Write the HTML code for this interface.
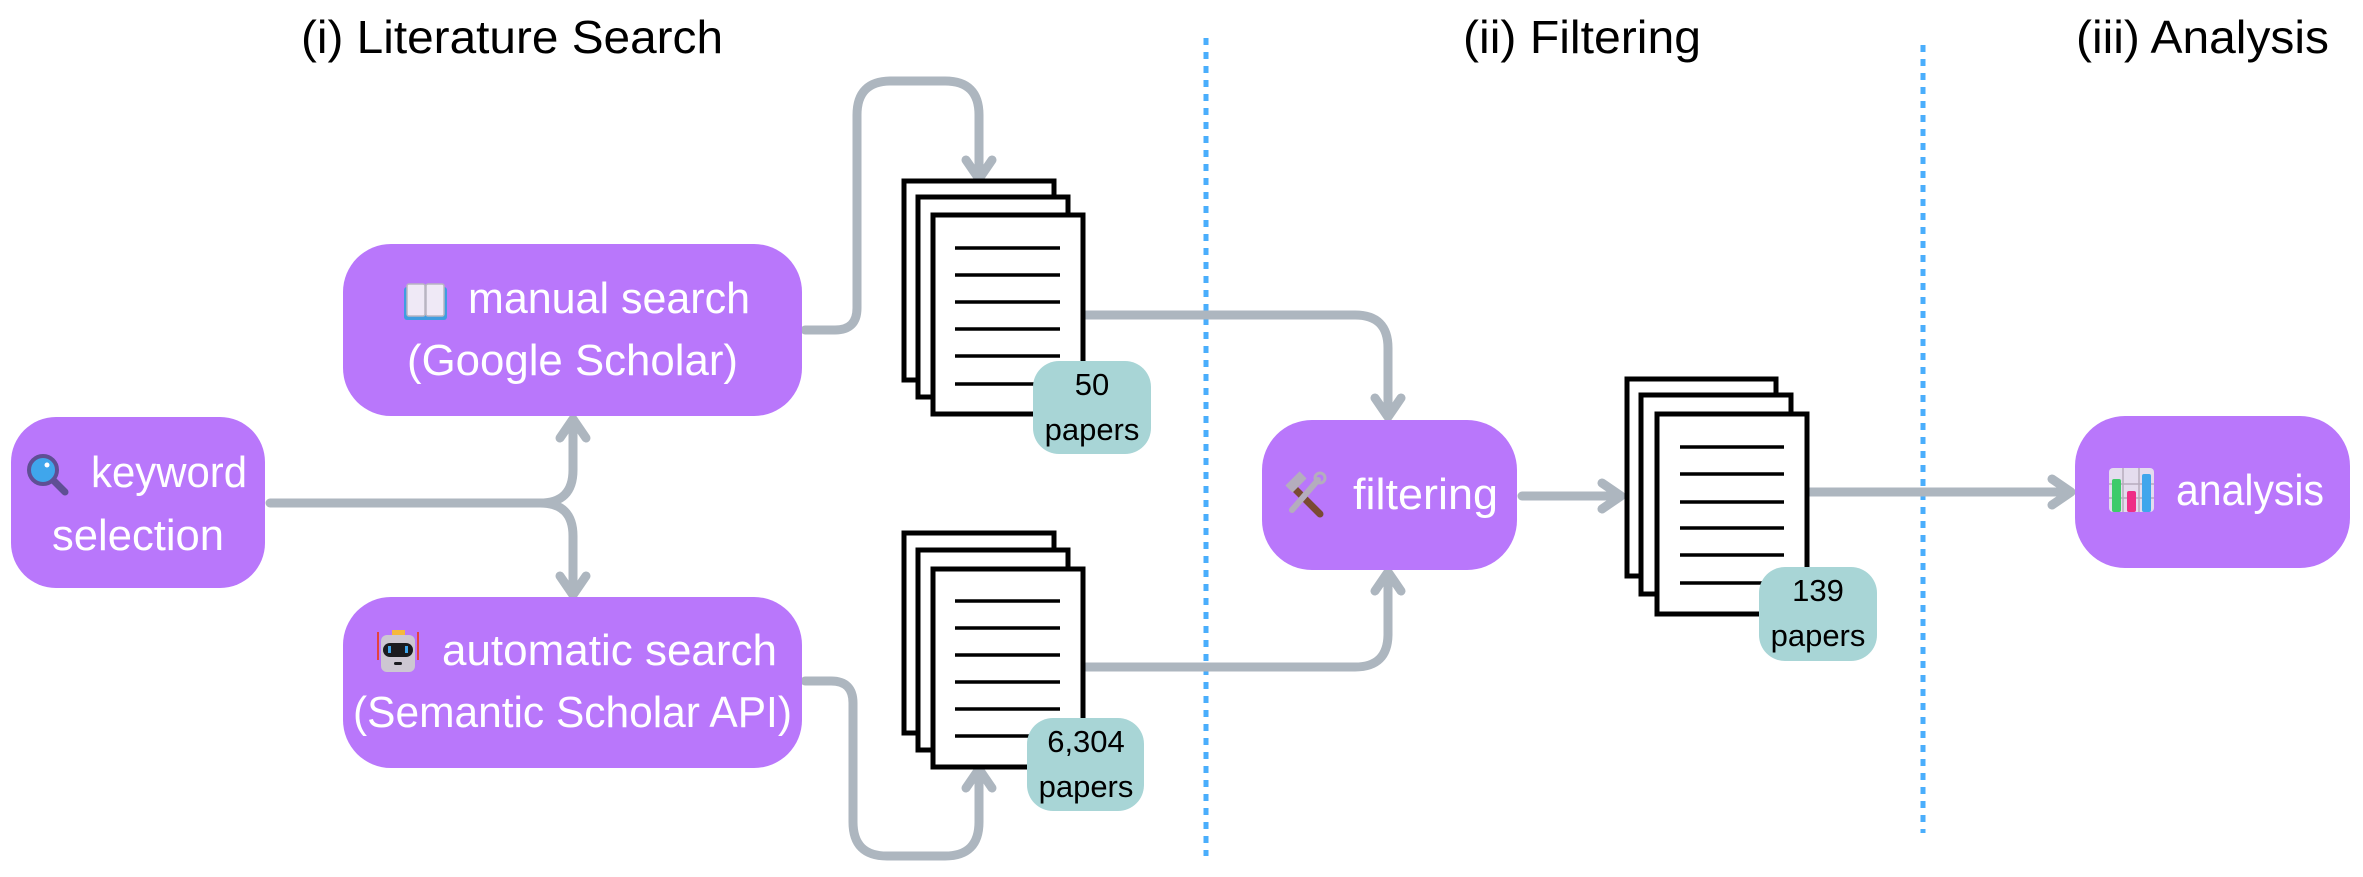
<!DOCTYPE html>
<html><head><meta charset="utf-8"><style>
html,body{margin:0;padding:0;background:#fff;}
svg{display:block;}
.t{font-family:"Liberation Sans",sans-serif;fill:#000;}
.b{font-family:"Liberation Sans","DejaVu Sans",sans-serif;fill:#fff;}
.p{font-family:"Liberation Sans",sans-serif;fill:#000;font-size:31px;}
.c{fill:none;stroke:#adb6bf;stroke-width:9;stroke-linecap:round;stroke-linejoin:round;}
.pg{fill:#fff;stroke:#000;stroke-width:5;}
.ln{stroke:#000;stroke-width:3.5;}
</style></head><body>
<svg width="2363" height="877" viewBox="0 0 2363 877" xmlns="http://www.w3.org/2000/svg">
<text class="t" x="301" y="53" font-size="46" textLength="422" lengthAdjust="spacingAndGlyphs">(i) Literature Search</text>
<text class="t" x="1463" y="53" font-size="46" textLength="238" lengthAdjust="spacingAndGlyphs">(ii) Filtering</text>
<text class="t" x="2076" y="53" font-size="46" textLength="253" lengthAdjust="spacingAndGlyphs">(iii) Analysis</text>
<line x1="1206" y1="38" x2="1206" y2="856" stroke="#4aaefc" stroke-width="5" stroke-dasharray="7 7"/>
<line x1="1923" y1="45" x2="1923" y2="833" stroke="#4aaefc" stroke-width="5" stroke-dasharray="7 7"/>

<path class="c" d="M270 503 H540 Q573 503 573 470 V420"/>
<path class="c" d="M560 438 L573 419 L586 438"/>
<path class="c" d="M540 503 Q573 503 573 536 V594"/>
<path class="c" d="M560 576 L573 595 L586 576"/>
<path class="c" d="M805 330 H835 Q857 330 857 308 V115 Q857 81 891 81 H945 Q979 81 979 115 V178"/>
<path class="c" d="M966 160 L979 179 L992 160"/>
<path class="c" d="M805 681 H831 Q853 681 853 703 V822 Q853 856 887 856 H945 Q979 856 979 822 V770"/>
<path class="c" d="M966 788 L979 769 L992 788"/>
<path class="c" d="M1086 315 H1355 Q1388 315 1388 348 V416"/>
<path class="c" d="M1375 398 L1388 417 L1401 398"/>
<path class="c" d="M1086 667 H1355 Q1388 667 1388 634 V573"/>
<path class="c" d="M1375 591 L1388 572 L1401 591"/>
<path class="c" d="M1522 496 H1620"/>
<path class="c" d="M1602 483 L1621 496 L1602 509"/>
<path class="c" d="M1810 492 H2070"/>
<path class="c" d="M2052 479 L2071 492 L2052 505"/>

<rect x="11" y="417" width="254" height="171" rx="45" fill="#b977fb"/>
<rect x="343" y="244" width="459" height="172" rx="48" fill="#b977fb"/>
<rect x="343" y="597" width="459" height="171" rx="48" fill="#b977fb"/>
<rect x="1262" y="420" width="255" height="150" rx="50" fill="#b977fb"/>
<rect x="2075" y="416" width="275" height="152" rx="50" fill="#b977fb"/>

<circle cx="43" cy="470" r="14" fill="#3fa6ec" stroke="#5f4f94" stroke-width="4"/>
<line x1="54" y1="481" x2="65" y2="492" stroke="#5f4f94" stroke-width="7" stroke-linecap="round"/>
<circle cx="47" cy="465" r="2.5" fill="#fff"/>
<g>
<rect x="404" y="287" width="43" height="33" rx="3" fill="#3f9de0"/>
<rect x="407" y="284" width="18" height="32" rx="2" fill="#efe9f6" stroke="#b9b5c2" stroke-width="1.5"/>
<rect x="426" y="284" width="18" height="32" rx="2" fill="#efe9f6" stroke="#b9b5c2" stroke-width="1.5"/>
</g>
<g>
<line x1="378" y1="632" x2="378" y2="660" stroke="#e4433c" stroke-width="2"/>
<line x1="418" y1="632" x2="418" y2="660" stroke="#e4433c" stroke-width="2"/>
<rect x="392" y="630" width="13" height="5" fill="#f5b93c"/>
<rect x="381" y="635" width="34" height="37" rx="6" fill="#cdc7d2"/>
<rect x="383" y="643" width="30" height="14" rx="7" fill="#1b1b1f"/>
<rect x="388" y="646" width="3" height="7" fill="#3fa6ec"/><rect x="405" y="646" width="3" height="7" fill="#3fa6ec"/>
<rect x="394" y="662" width="8" height="3" rx="1.5" fill="#1b1b1f"/>
</g>
<g>
<line x1="1292" y1="486" x2="1320" y2="514" stroke="#7a4a33" stroke-width="7" stroke-linecap="round"/>
<rect x="1286" y="477" width="20" height="10" fill="#b4adbd" transform="rotate(-45 1296 482)"/>
<line x1="1318" y1="480" x2="1292" y2="510" stroke="#b4adbd" stroke-width="6" stroke-linecap="round"/>
<circle cx="1320" cy="478" r="5" fill="none" stroke="#b4adbd" stroke-width="3"/>
</g>
<g>
<rect x="2109" y="468" width="45" height="44" rx="4" fill="#e4dcee"/>
<line x1="2123" y1="468" x2="2123" y2="512" stroke="#b6acbd" stroke-width="1.5"/>
<line x1="2139" y1="468" x2="2139" y2="512" stroke="#b6acbd" stroke-width="1.5"/>
<line x1="2109" y1="484" x2="2154" y2="484" stroke="#b6acbd" stroke-width="1.5"/>
<line x1="2109" y1="498" x2="2154" y2="498" stroke="#b6acbd" stroke-width="1.5"/>
<rect x="2112" y="479" width="9" height="33" rx="2" fill="#3ecb6a"/>
<rect x="2127" y="491" width="9" height="21" rx="2" fill="#ee2e86"/>
<rect x="2142" y="474" width="9" height="38" rx="2" fill="#3fa6ec"/>
</g>

<text class="b" x="91" y="487" font-size="44" textLength="156" lengthAdjust="spacingAndGlyphs">keyword</text>
<text class="b" x="52" y="550" font-size="44" textLength="172" lengthAdjust="spacingAndGlyphs">selection</text>
<text class="b" x="468" y="313" font-size="44" textLength="282" lengthAdjust="spacingAndGlyphs">manual search</text>
<text class="b" x="407" y="375" font-size="44" textLength="331" lengthAdjust="spacingAndGlyphs">(Google Scholar)</text>
<text class="b" x="442" y="665" font-size="44" textLength="335" lengthAdjust="spacingAndGlyphs">automatic search</text>
<text class="b" x="353" y="727" font-size="44" textLength="439" lengthAdjust="spacingAndGlyphs">(Semantic Scholar API)</text>
<text class="b" x="1353" y="509" font-size="44" textLength="145" lengthAdjust="spacingAndGlyphs">filtering</text>
<text class="b" x="2176" y="505" font-size="44" textLength="148" lengthAdjust="spacingAndGlyphs">analysis</text>

<rect class="pg" x="904" y="181" width="150" height="199"/>
<rect class="pg" x="918" y="197" width="150" height="200"/>
<rect class="pg" x="933" y="215" width="150" height="199"/>
<g class="ln"><line x1="955" y1="248" x2="1060" y2="248"/><line x1="955" y1="275" x2="1060" y2="275"/><line x1="955" y1="302" x2="1060" y2="302"/><line x1="955" y1="329" x2="1060" y2="329"/><line x1="955" y1="356" x2="1060" y2="356"/><line x1="955" y1="384" x2="1060" y2="384"/></g>
<rect x="1033" y="361" width="118" height="93" rx="26" fill="#a8d5d6"/>
<text class="p" x="1092" y="395" text-anchor="middle">50</text>
<text class="p" x="1092" y="440" text-anchor="middle">papers</text>

<rect class="pg" x="904" y="533" width="150" height="200"/>
<rect class="pg" x="918" y="550" width="150" height="200"/>
<rect class="pg" x="933" y="569" width="150" height="198"/>
<g class="ln"><line x1="955" y1="601" x2="1060" y2="601"/><line x1="955" y1="628" x2="1060" y2="628"/><line x1="955" y1="655" x2="1060" y2="655"/><line x1="955" y1="682" x2="1060" y2="682"/><line x1="955" y1="709" x2="1060" y2="709"/><line x1="955" y1="736" x2="1060" y2="736"/></g>
<rect x="1027" y="718" width="117" height="93" rx="26" fill="#a8d5d6"/>
<text class="p" x="1086" y="752" text-anchor="middle">6,304</text>
<text class="p" x="1086" y="797" text-anchor="middle">papers</text>

<rect class="pg" x="1627" y="379" width="149" height="197"/>
<rect class="pg" x="1641" y="395" width="150" height="199"/>
<rect class="pg" x="1657" y="414" width="150" height="200"/>
<g class="ln"><line x1="1680" y1="447" x2="1784" y2="447"/><line x1="1680" y1="474" x2="1784" y2="474"/><line x1="1680" y1="502" x2="1784" y2="502"/><line x1="1680" y1="528" x2="1784" y2="528"/><line x1="1680" y1="555" x2="1784" y2="555"/><line x1="1680" y1="583" x2="1784" y2="583"/></g>
<rect x="1759" y="567" width="118" height="94" rx="26" fill="#a8d5d6"/>
<text class="p" x="1818" y="601" text-anchor="middle">139</text>
<text class="p" x="1818" y="646" text-anchor="middle">papers</text>
</svg>
</body></html>
